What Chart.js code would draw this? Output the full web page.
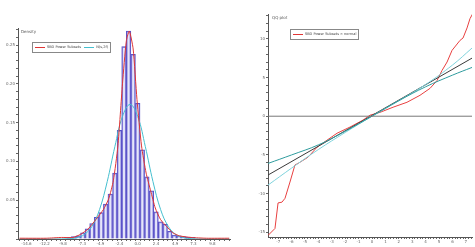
<!DOCTYPE html>
<html>
<head>
<meta charset="utf-8">
<script src="https://cdn.jsdelivr.net/npm/chart.js@4/dist/chart.umd.min.js"></script>
<style>
  html, body { margin:0; padding:0; background:#fff; }
  #wrap { position:relative; width:475px; height:247px; overflow:hidden; font-family:"DejaVu Sans", sans-serif; }
  canvas { position:absolute; top:0; }
  #c1 { left:0; } #c2 { left:240px; }
  .lbl { position:absolute; font-size:4px; color:#555; white-space:nowrap; }
  .leg { position:absolute; border:1px solid #888; background:#fff; font-size:3.5px; color:#444; white-space:nowrap; padding:2px 2px; line-height:5px; }
  .leg i { display:inline-block; width:10px; height:0; border-top:1px solid; vertical-align:middle; margin:0 2px 0 0; }
</style>
</head>
<body>
<div id="wrap">
  <canvas id="c1" width="240" height="247"></canvas>
  <canvas id="c2" width="235" height="247"></canvas>
  <div class="lbl" style="left:21px;top:29px">Density</div>
  <div class="leg" style="left:32px;top:42px"><i style="border-color:#e03535"></i>SBD Power Subsets &nbsp;&nbsp;<i style="border-color:#45bfcf"></i>N(s,2f)</div>
  <div class="lbl" style="left:272px;top:15px">QQ plot</div>
  <div class="leg" style="left:290px;top:29px"><i style="border-color:#e03535"></i>SBD Power Subsets &times; normal</div>
</div>
<script>
// ---- left panel: histogram + density curves ----
const binCenters = [-9.0,-8.4,-7.8,-7.2,-6.6,-6.0,-5.4,-4.8,-4.2,-3.6,-3.0,-2.4,-1.8,-1.2,-0.6,0.0,0.6,1.2,1.8,2.4,3.0,3.6,4.2,4.8,5.4,6.0,6.6,7.2];
const binHeights = [0.002,0.003,0.004,0.008,0.013,0.02,0.028,0.034,0.045,0.058,0.085,0.14,0.248,0.268,0.238,0.175,0.115,0.08,0.062,0.035,0.022,0.019,0.01,0.005,0.004,0.003,0.002,0.002];

const kdeX = [-15.5,-12,-10,-8.5,-7.5,-6.5,-5.5,-4.5,-3.8,-3.2,-2.6,-2.0,-1.5,-1.1,-0.6,-0.1,0.5,1.1,1.7,2.3,3.0,3.8,4.6,5.5,7,9,12];
const kdeY = [0.001,0.001,0.002,0.002,0.006,0.013,0.025,0.038,0.052,0.075,0.12,0.2,0.255,0.268,0.245,0.18,0.12,0.085,0.062,0.04,0.025,0.016,0.008,0.004,0.002,0.001,0.001];

const normX = [-15.5,-11,-9,-8,-7,-6,-5,-4,-3,-2,-1,0,1,2,3,4,5,6,7,9,12];
const normY = [0,0,0.0004,0.0017,0.0058,0.0164,0.0382,0.074,0.119,0.158,0.1735,0.158,0.119,0.074,0.038,0.0164,0.0058,0.0017,0.0004,0,0];

const histXLabels = ['-14.6','-12.2','-9.8','-7.3','-4.9','-2.4','0.0','2.4','4.9','7.3','9.8'];
const histYLabels = ['0.05','0.10','0.15','0.20','0.25'];

// ---- right panel: QQ plot ----
const qqX = [-7.76,-7.24,-7.01,-6.72,-6.49,-6.12,-5.75,-5.52,-5.15,-4.78,-4.10,-3.36,-2.61,-1.64,-0.67,-0.15,0.6,1.57,2.61,3.58,4.33,4.85,5.22,5.6,5.97,6.57,6.79,7.09,7.31,7.5];
const qqY = [-15.4,-14.5,-11.2,-11.1,-10.6,-8.5,-6.3,-6.1,-5.7,-5.3,-4.0,-3.1,-2.2,-1.4,-0.5,0.13,0.5,1.16,1.8,2.7,3.6,4.6,5.9,7.0,8.5,9.8,10.1,11.4,12.6,13.2];

const refX = [-7.76, 7.46];
const refY = [-7.6, 7.5];

const bandX = [-7.76,-6,-4,-2,0,2,4,6,7.46];
const bandUpper = [-6.1,-5.0,-3.7,-1.95,0,2.0,3.8,5.3,6.3];
const bandLower = [-8.9,-6.7,-4.3,-2.1,0,2.0,4.1,6.6,8.8];

const qqXLabels = ['-7','-6','-5','-4','-3','-2','-1','0','1','2','3','4','5','6','7'];
const qqYLabels = ['10','5','0','-5','-10','-15'];

const pts = (xs, ys) => xs.map((x, i) => ({x: x, y: ys[i]}));
const font = { family: 'DejaVu Sans', size: 4 };

// major ticks carry the labels, minor ones are just marks between them
function makeTicks(labels, minor){
  const majors = labels.map(Number).sort((a, b) => a - b);
  const n = majors.length;
  const ext = [majors[0] - (majors[1] - majors[0]), ...majors, majors[n-1] + (majors[n-1] - majors[n-2])];
  const vals = [];
  for (let i = 0; i < ext.length - 1; i++) {
    for (let k = 0; k < minor; k++) vals.push(ext[i] + (ext[i+1] - ext[i]) * k / minor);
  }
  vals.push(ext[ext.length - 1]);
  return { vals, labelOf: v => {
    const k = labels.findIndex(l => Math.abs(Number(l) - v) < 1e-6);
    return k >= 0 ? labels[k] : '';
  }};
}

function axis(min, max, labels, minor, size, isY){
  const t = makeTicks(labels, minor);
  return {
    type: 'linear', min, max, offset: false,
    afterBuildTicks: s => { s.ticks = t.vals.filter(v => v >= min && v <= max).map(v => ({value: v})); },
    afterFit: s => { if (isY) s.width = size; else s.height = size; },
    ticks: { autoSkip: false, maxRotation: 0, font, color: '#666', padding: 1, callback: v => t.labelOf(v) },
    grid: { drawOnChartArea: false, tickLength: 2, color: '#666' },
    border: { display: true, color: '#555', width: 1 }
  };
}

new Chart(document.getElementById('c1'), {
  type: 'bar',
  data: { datasets: [
    { type: 'line', data: pts(kdeX, kdeY), borderColor: '#e03535', borderWidth: 1, pointRadius: 0, tension: 0.2, order: 1 },
    { type: 'line', data: pts(normX, normY), borderColor: '#45bfcf', borderWidth: 1, pointRadius: 0, tension: 0.4, order: 2 },
    { type: 'bar', data: pts(binCenters, binHeights), backgroundColor: 'rgba(205,205,245,0.5)', borderColor: '#5a52c8', borderWidth: 1, barPercentage: 1, categoryPercentage: 1, order: 3 }
  ]},
  options: {
    animation: false, responsive: false, devicePixelRatio: 1,
    layout: { padding: { left: 0, right: 10, top: 28, bottom: 0 } },
    plugins: { legend: { display: false }, tooltip: { enabled: false } },
    scales: {
      x: axis(-15.7, 12.1, histXLabels, 4, 8, false),
      y: axis(0, 0.272, histYLabels, 5, 18, true)
    }
  }
});

new Chart(document.getElementById('c2'), {
  type: 'line',
  data: { datasets: [
    { data: pts(refX, [0, 0]), borderColor: '#777', borderWidth: 1, pointRadius: 0 },
    { data: pts(bandX, bandUpper), borderColor: '#2f9c9e', borderWidth: 1, pointRadius: 0, tension: 0.4 },
    { data: pts(bandX, bandLower), borderColor: '#7fd3dc', borderWidth: 1, pointRadius: 0, tension: 0.4 },
    { data: pts(refX, refY), borderColor: '#3a3a3a', borderWidth: 1, pointRadius: 0 },
    { data: pts(qqX, qqY), borderColor: '#e84040', borderWidth: 1, pointRadius: 0 }
  ]},
  options: {
    animation: false, responsive: false, devicePixelRatio: 1,
    layout: { padding: { left: 0, right: 3, top: 14, bottom: 2 } },
    plugins: { legend: { display: false }, tooltip: { enabled: false } },
    scales: {
      x: axis(-7.76, 7.46, qqXLabels, 5, 8, false),
      y: axis(-15.6, 13.2, qqYLabels, 5, 28, true)
    }
  }
});
</script>
</body>
</html>
